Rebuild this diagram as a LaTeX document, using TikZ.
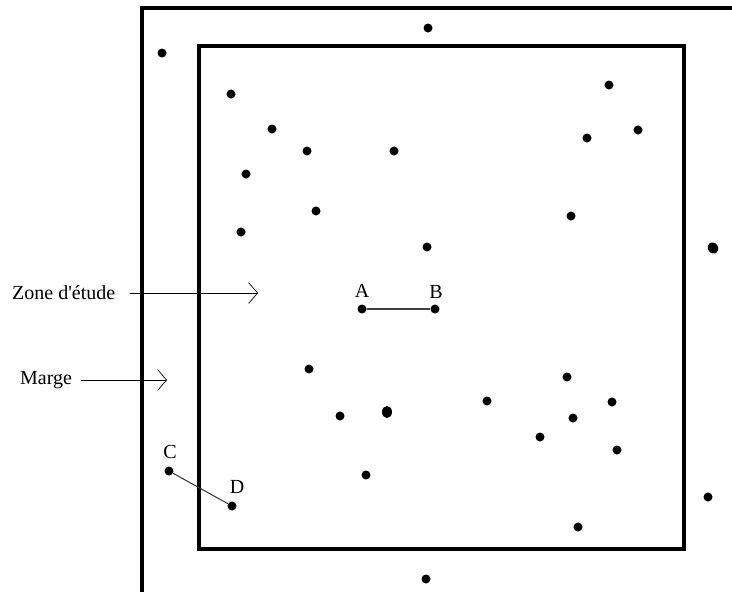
\documentclass[tikz,border=0pt]{standalone}
\usepackage{fontspec}
\setmainfont{Liberation Serif}[Ligatures=TeXOff]
\usetikzlibrary{arrows.meta,shapes.geometric}
\begin{document}
\begin{tikzpicture}[x=1pt,y=-1pt,
  pt/.style={circle,fill=black,inner sep=0pt,minimum size=9pt},
  bigpt/.style={ellipse,fill=black,inner sep=0pt,minimum width=10pt,minimum height=12pt},
  lbl/.style={font=\fontsize{20}{23}\selectfont,inner sep=0pt,anchor=base},
  frame/.style={line width=4pt},
  pointer/.style={line width=0.7pt,-{Straight Barb[length=9pt,width=21pt,line width=0.7pt]}}]
\useasboundingbox (0,0) rectangle (732,592);
\fill[white] (0,0) rectangle (732,592);
% outer margin frame (cropped on right and bottom)
\draw[frame] (142,600) -- (142,8) -- (740,8);
% study zone
\draw[frame,line width=3.5pt] (199,46) rectangle (684,549);
% points
\node[pt] (p1) at (162,53) {};
\node[pt] (p2) at (428,28) {};
\node[pt] (p3) at (231,94) {};
\node[pt] (p4) at (272,129) {};
\node[pt] (p5) at (307,151) {};
\node[pt] (p6) at (394,151) {};
\node[pt] (p7) at (246,174) {};
\node[pt] (p8) at (316,211) {};
\node[pt] (p9) at (241,232) {};
\node[pt] (p10) at (427,247) {};
\node[pt] (p11) at (609,85) {};
\node[pt] (p12) at (587,138) {};
\node[pt] (p13) at (638,130) {};
\node[pt] (p14) at (571,216) {};
\node[bigpt,rotate=30] (p15) at (713,248) {};
\node[pt] (A) at (362,309) {};
\node[pt] (B) at (435,309) {};
\node[pt] (p16) at (309,369) {};
\node[pt] (p17) at (340,416) {};
\node[bigpt] (p18) at (387,412) {};
\node[pt] (p19) at (487,401) {};
\node[pt] (p20) at (567,377) {};
\node[pt] (p21) at (612,402) {};
\node[pt] (p22) at (573,418) {};
\node[pt] (p23) at (540,437) {};
\node[pt] (p24) at (617,450) {};
\node[pt] (C) at (169,471) {};
\node[pt] (D) at (232,506) {};
\node[pt] (p25) at (366,475) {};
\node[pt] (p26) at (708,497) {};
\node[pt] (p27) at (578,527) {};
\node[pt] (p28) at (426,579) {};
% point labels
\node[lbl] (lA) at (362,297) {A};
\node[lbl] (lB) at (436,298) {B};
\node[lbl] (lC) at (170,458) {C};
\node[lbl] (lD) at (237,493) {D};
% segments
\draw[line width=1.2pt,black!75] (A) -- (B);
\draw[line width=1pt,black!80] (C) -- (D);
% legend labels and pointers
\node[lbl,anchor=base west] (zone) at (12,299) {Zone d'étude};
\node[lbl,anchor=base west] (marge) at (20,384) {Marge};
\coordinate (zoneEnd) at (258,293);
\coordinate (margeEnd) at (167,380);
\draw[pointer] (zone.east |- zoneEnd) ++(15,0) coordinate (zs) (zs) -- (zoneEnd);
\draw[pointer] (marge.east |- margeEnd) ++(9,0) coordinate (ms) (ms) -- (margeEnd);
\end{tikzpicture}
\end{document}
